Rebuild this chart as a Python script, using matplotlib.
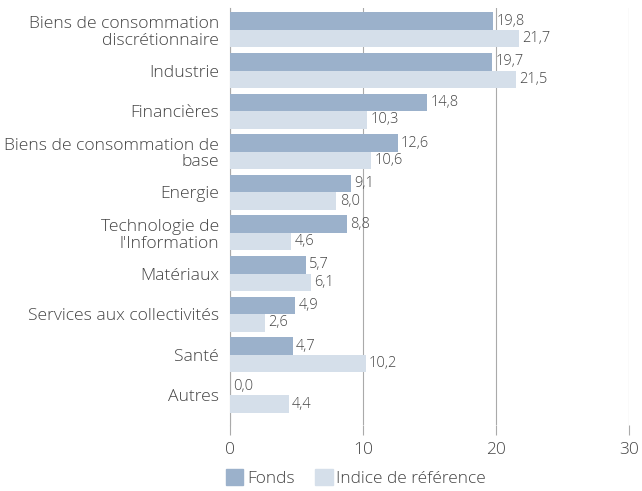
import matplotlib
matplotlib.use("Agg")
import matplotlib.pyplot as plt
import numpy as np
from matplotlib.patches import Patch

categories = ["Biens de consommation\ndiscrétionnaire", "Industrie", "Financières",
              "Biens de consommation de\nbase", "Energie", "Technologie de\nl'Information",
              "Matériaux", "Services aux collectivités", "Santé", "Autres"]
fonds = [19.8, 19.7, 14.8, 12.6, 9.1, 8.8, 5.7, 4.9, 4.7, 0.0]
indice = [21.7, 21.5, 10.3, 10.6, 8.0, 4.6, 6.1, 2.6, 10.2, 4.4]
series_names = ["Fonds", "Indice de référence"]
xticks = [0, 10, 20, 30]

c_f = "#9BB1CB"
c_i = "#D5DFEA"
tc = "#454545"
plt.rcParams['font.family'] = ['Open Sans', 'DejaVu Sans']
plt.rcParams['font.weight'] = 300

fig = plt.figure(figsize=(6.42, 4.91), dpi=100)
ax = fig.add_axes([230/642, 1-425/491, (629-230)/642, 417/491])
y = np.arange(len(categories))
h = 0.43
ax.barh(y - h/2, fonds, height=h, color=c_f, zorder=3)
ax.barh(y + h/2, indice, height=h, color=c_i, zorder=3)
for i in range(len(categories)):
    ax.text(fonds[i] + 0.25, y[i] - h/2, f"{fonds[i]:.1f}".replace('.', ','), va='center', ha='left', fontsize=10.5, color=tc)
    ax.text(indice[i] + 0.25, y[i] + h/2, f"{indice[i]:.1f}".replace('.', ','), va='center', ha='left', fontsize=10.5, color=tc)
ax.set_xlim(0, 30)
ax.set_ylim(9.73, -0.54)
ax.set_yticks(y)
ax.set_yticklabels(categories, fontsize=12.6, color=tc, linespacing=1.05)
ax.set_xticks(xticks)
ax.set_xticklabels([str(t) for t in xticks], fontsize=12.5, color=tc)
ax.tick_params(axis='y', length=0, pad=8)
ax.tick_params(axis='x', length=7, color="#AAAAAA", pad=5)
for s in ['top', 'right', 'bottom']:
    ax.spines[s].set_visible(False)
ax.spines['left'].set_color("#AAAAAA")
ax.grid(axis='x', color="#AAAAAA", linewidth=0.8, zorder=0)
handles = [Patch(color=c_f, label=series_names[0]), Patch(color=c_i, label=series_names[1])]
fig.legend(handles=handles, loc='center', bbox_to_anchor=(356/642, 1-478/491), ncol=2, frameon=False,
           fontsize=12.5, handlelength=1.0, handleheight=1.0, handletextpad=0.2, columnspacing=1.2,
           labelcolor=tc)
fig.savefig("out.png", dpi=100)
